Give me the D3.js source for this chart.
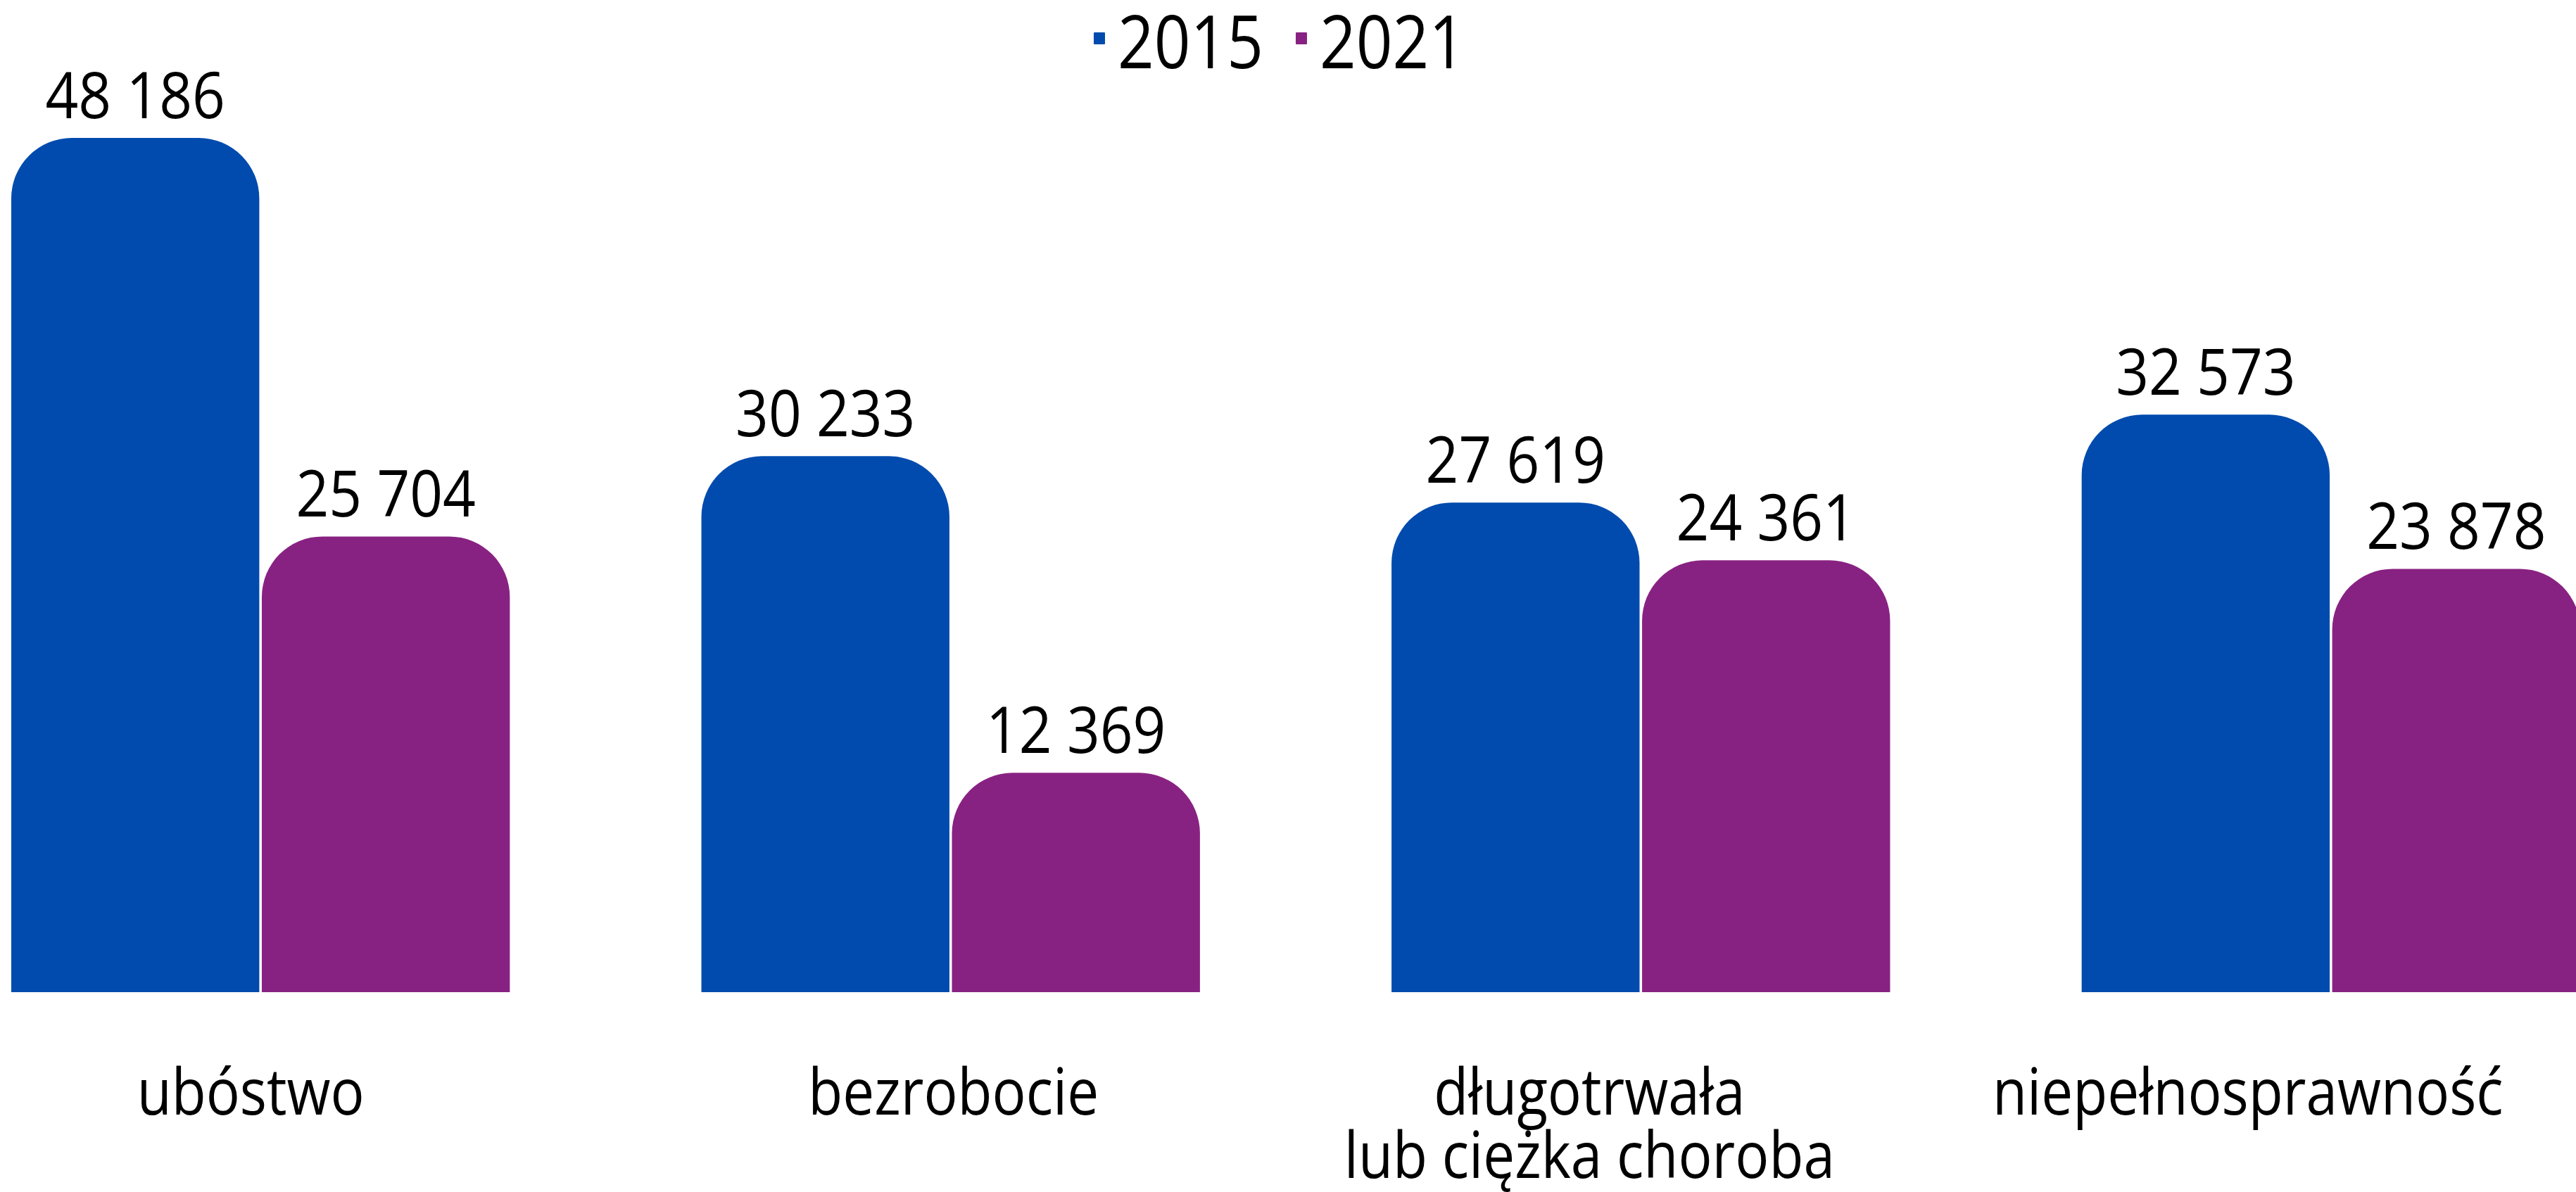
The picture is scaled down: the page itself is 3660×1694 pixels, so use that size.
<!DOCTYPE html>
<html>
<head>
<meta charset="utf-8">
<script src="https://cdn.jsdelivr.net/npm/d3@7/dist/d3.min.js"></script>
<style>
  body { margin: 0; background: #fff; }
  text { font-family: "Open Sans", sans-serif; font-weight: 400; fill: #000; }
</style>
</head>
<body>
<svg id="mainsvg"></svg>
<script>
// data
const categories = ["ubóstwo", "bezrobocie", "długotrwała\nlub ciężka choroba", "niepełnosprawność"]
const years = ["2015", "2021"]
const values2015 = [48186, 30233, 27619, 32573]
const values2021 = [25704, 12369, 24361, 23878]
const colors = ["#004BAD", "#882282"]

// category labels are not quite centred under their groups in the original
const labelShift = [-14, 4, -73, -118]

const width = 3660
const height = 1694
const baseY = 1410
const topY = 196
const radius = 86

const svg = d3.select("#mainsvg")
    .attr("width", width)
    .attr("height", height)

svg.append("rect").attr("width", width).attr("height", height).attr("fill", "#fff")

const pl = d3.formatLocale({decimal: ",", thousands: " ", grouping: [3], currency: ["", " zł"]})
const fmt = pl.format(",d")

const series = [values2015, values2021]
const rows = categories.map((c, i) => ({cat: c, vals: years.map((yr, j) => ({year: yr, value: series[j][i]}))}))

const x0 = d3.scaleBand()
    .domain(categories)
    .range([16, 3666])
    .paddingInner(0.2776)
    .paddingOuter(0)

const x1 = d3.scaleBand()
    .domain(years)
    .range([0, x0.bandwidth()])
    .paddingInner(0.01)

const y = d3.scaleLinear()
    .domain([0, d3.max(values2015.concat(values2021))])
    .range([baseY, topY])

const color = d3.scaleOrdinal().domain(years).range(colors)

function roundedTop(x, yTop, w, h, r) {
    r = Math.min(r, w / 2, h)
    return `M${x},${yTop + h} V${yTop + r} A${r},${r} 0 0 1 ${x + r},${yTop} H${x + w - r} A${r},${r} 0 0 1 ${x + w},${yTop + r} V${yTop + h} Z`
}

const groups = svg.append("g").selectAll("g")
    .data(rows)
    .join("g")
    .attr("transform", d => `translate(${x0(d.cat)},0)`)

groups.selectAll("path")
    .data(d => d.vals)
    .join("path")
    .attr("d", d => roundedTop(x1(d.year), y(d.value), x1.bandwidth(), baseY - y(d.value), radius))
    .attr("fill", d => color(d.year))

groups.selectAll("text.val")
    .data(d => d.vals)
    .join("text")
    .attr("class", "val")
    .attr("transform", d => `translate(${x1(d.year) + x1.bandwidth() / 2},${y(d.value) - 28}) scale(0.9,1)`)
    .attr("text-anchor", "middle")
    .attr("font-size", "91px")
    .text(d => fmt(d.value))

// category labels
const catLabels = svg.append("g").selectAll("text")
    .data(categories)
    .join("text")
    .attr("transform", (d, i) => `translate(${x0(d) + x0.bandwidth() / 2 + labelShift[i]},1584) scale(0.87,1)`)
    .attr("text-anchor", "middle")
    .attr("font-size", "92px")

catLabels.selectAll("tspan")
    .data(d => d.split("\n"))
    .join("tspan")
    .attr("x", 0)
    .attr("dy", (d, i) => i === 0 ? 0 : 90)
    .text(d => d)

// legend
const legend = svg.append("g").attr("transform", "translate(1554,0)")
const item = legend.selectAll("g")
    .data(years)
    .join("g")
    .attr("transform", (d, i) => `translate(${i * 287},0)`)

item.append("rect")
    .attr("x", 0)
    .attr("y", 46)
    .attr("width", 16)
    .attr("height", 17)
    .attr("rx", 1)
    .attr("fill", d => color(d))

item.append("text")
    .attr("transform", "translate(34,97) scale(0.87,1)")
    .attr("font-size", "104px")
    .text(d => d)
</script>
</body>
</html>
